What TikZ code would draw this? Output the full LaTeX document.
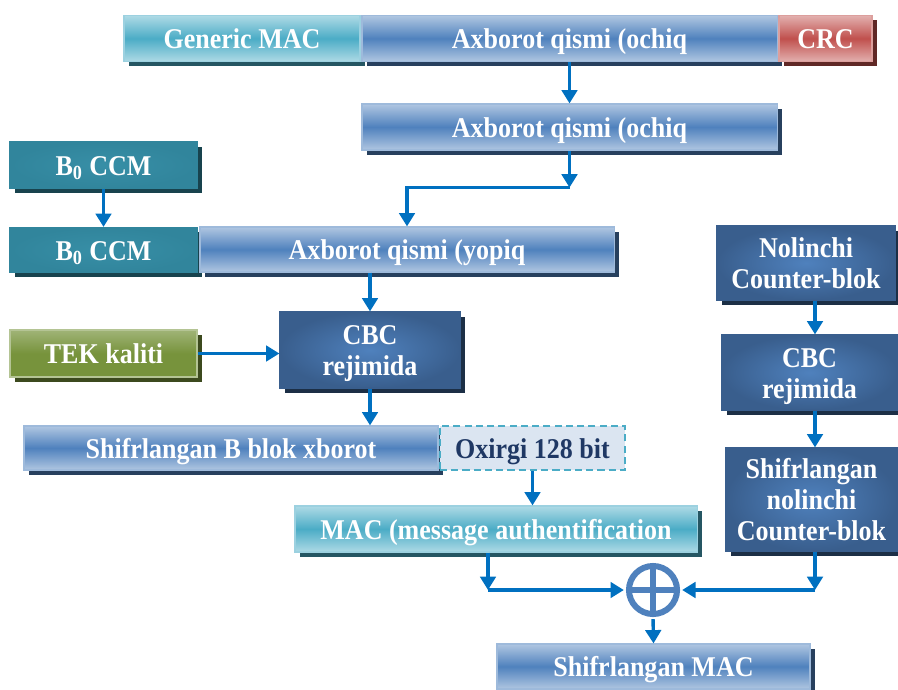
\documentclass[tikz,border=0pt]{standalone}
\usepackage{fontspec}
\setmainfont{Liberation Serif}
\usepackage{graphicx}
\usetikzlibrary{arrows.meta,shadows,calc}
\definecolor{blueb}{HTML}{4F81BD}
\definecolor{navyb}{HTML}{395E8D}
\definecolor{tealb}{HTML}{4BACC6}
\definecolor{tealc}{HTML}{31859C}
\definecolor{redb}{HTML}{C0504D}
\definecolor{oliveb}{HTML}{77933C}
\definecolor{paleb}{HTML}{DBE5F1}
\definecolor{inkb}{HTML}{1F3864}
\definecolor{arrowb}{HTML}{0070C0}
\newcommand{\tall}[1]{\raisebox{-3pt}[\height][\depth]{\scalebox{1}[1.1]{\begin{tabular}{@{}c@{}}#1\end{tabular}}}}

\begin{document}
\begin{tikzpicture}[x=0.025cm,y=-0.025cm,
  >={Triangle[width=11pt,length=9.5pt]},
  box/.style={minimum height=1.15cm,inner sep=0pt,text=white,
    font=\fontsize{18.5}{20}\selectfont\bfseries,draw=#1!55!white,line width=0.8pt,
    drop shadow={shadow xshift=0.12cm,shadow yshift=-0.12cm,opacity=1,fill=#1!50!black}},
  lightbox/.style={box=#1,top color=#1!45!white,bottom color=#1!45!white,middle color=#1},
  darkbox/.style={box=navyb,draw=navyb,inner color=blueb,outer color=navyb},
  tealbox/.style={box=tealc,draw=tealc,inner color=tealc!75!tealb,outer color=tealc},
  olivebox/.style={box=oliveb,top color=oliveb!70!white,bottom color=oliveb,middle color=oliveb},
  lastbox/.style={minimum height=1.1cm,inner sep=0pt,text=inkb,
    font=\fontsize{18.5}{20}\selectfont\bfseries,fill=paleb,draw=tealb,
    line width=1.6pt,dash pattern=on 5pt off 3pt},
  xorring/.style={circle,minimum size=1.2cm,draw=blueb,line width=4.3pt},
  flow/.style={->,draw=arrowb,line width=2.4pt}]
  \useasboundingbox (0,0) rectangle (898,689);

  \node[lightbox=tealb,minimum width=5.9cm] (hdr) at (242,38.5) {\tall{Generic MAC}};
  \node[lightbox=blueb,minimum width=10.375cm] (open) at (569.5,38.5) {\tall{Axborot qismi (ochiq}};
  \node[lightbox=redb,minimum width=2.325cm] (crc) at (825.5,38.5) {\tall{CRC}};
  \node[lightbox=blueb,minimum width=10.375cm] (opentwo) at (569.5,127) {\tall{Axborot qismi (ochiq}};
  \node[tealbox,minimum width=4.675cm] (bnull) at (103.5,165) {\tall{B\textsubscript{0} CCM}};
  \node[tealbox,minimum width=4.675cm,minimum height=1.125cm] (bone) at (103.5,250) {\tall{B\textsubscript{0} CCM}};
  \node[lightbox=blueb,minimum width=10.35cm,minimum height=1.125cm] (closed) at (407,249.5) {\tall{Axborot qismi (yopiq}};
  \node[olivebox,minimum width=4.675cm,minimum height=1.175cm] (tek) at (103.5,353.5) {\tall{TEK kaliti}};
  \node[darkbox,minimum width=4.5cm,minimum height=1.9cm] (cbcl) at (370,350) {\tall{CBC\\rejimida}};
  \node[lightbox=blueb,minimum width=10.35cm,minimum height=1.1cm] (encb) at (231,448) {\tall{Shifrlangan B blok xborot}};
  \node[lastbox,minimum width=4.625cm] (last) at (532.5,448) {\tall{Oxirgi 128 bit}};
  \node[lightbox=tealb,minimum width=10.05cm] (mic) at (496,529) {\tall{MAC (message authentification}};
  \node[darkbox,minimum width=4.45cm,minimum height=1.85cm] (ctr) at (806,263) {\tall{Nolinchi\\Counter-blok}};
  \node[darkbox,minimum width=4.375cm,minimum height=1.875cm] (cbcr) at (809.5,372.5) {\tall{CBC\\rejimida}};
  \node[darkbox,minimum width=4.275cm,minimum height=2.575cm] (encctr) at (811.5,499.5) {\tall{Shifrlangan\\nolinchi\\Counter-blok}};
  \node[lightbox=blueb,minimum width=7.825cm,minimum height=1.125cm] (mac) at (653.5,666.5) {\tall{Shifrlangan MAC}};
  \node[xorring] (xor) at (653,590) {};
  \draw[blueb,line width=4.3pt] (xor.north) -- (xor.south) (xor.west) -- (xor.east);

  \coordinate (inl) at (488,590);
  \coordinate (inr) at (815,590);
  \draw[flow] (open.south) -- (opentwo.north);
  \draw[flow] (opentwo.south) -- ++(0,37) coordinate (bend);
  \draw[flow] (bend) -| (closed.north);
  \draw[flow] (bnull.south) -- (bone.north);
  \draw[flow] (closed.south -| cbcl.north) -- (cbcl.north);
  \draw[flow] (tek.east) -- (tek.east -| cbcl.west);
  \draw[flow] (cbcl.south) -- (cbcl.south |- encb.north);
  \draw[flow] (last.south) -- (last.south |- mic.north);
  \draw[flow] (mic.south -| inl) -- (inl);
  \draw[flow,shorten >=1.5pt] (inl) -- (xor.west);
  \draw[flow] (ctr.south -| inr) -- (cbcr.north -| inr);
  \draw[flow] (cbcr.south -| inr) -- (encctr.north -| inr);
  \draw[flow] (encctr.south -| inr) -- (inr);
  \draw[flow,shorten >=1.5pt] (inr) -- (xor.east);
  \draw[flow,shorten <=1.5pt] (xor.south) -- (mac.north);
\end{tikzpicture}
\end{document}
